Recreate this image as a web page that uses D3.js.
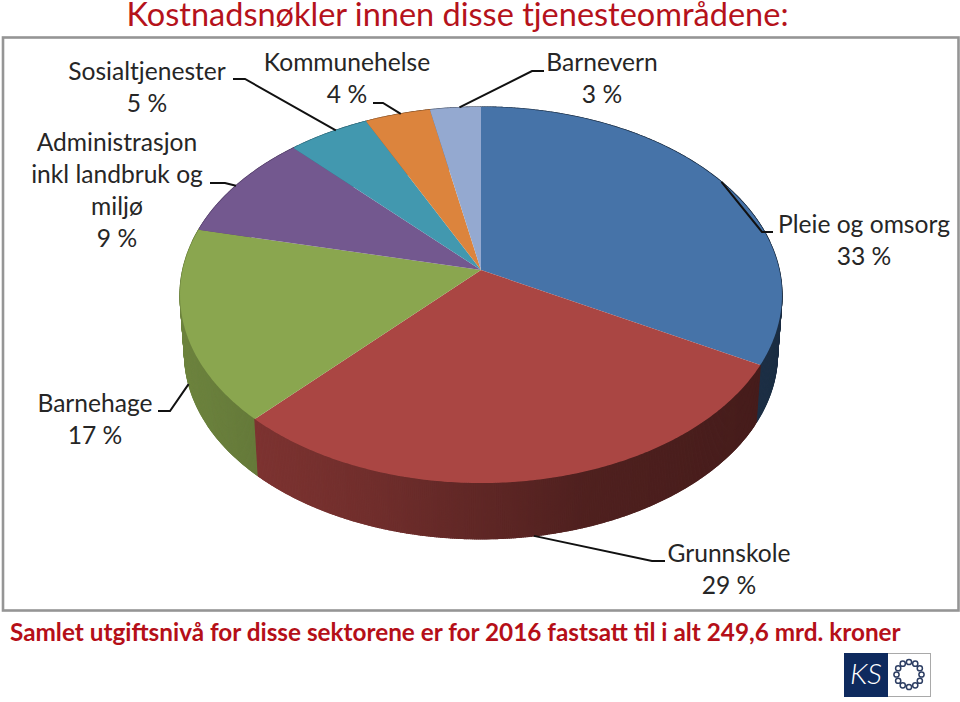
<!DOCTYPE html>
<html><head><meta charset="utf-8">
<script src="https://cdn.jsdelivr.net/npm/d3@7"></script>
<style>html,body{margin:0;background:#fff}svg{display:block}text{font-family:Lato,"Open Sans",sans-serif}</style>
</head><body><svg id="c" width="960" height="702"></svg>
<script>
const categories=["Pleie og omsorg","Grunnskole","Barnehage","Administrasjon\ninkl landbruk og\nmiljø","Sosialtjenester","Kommunehelse","Barnevern"];
const values=[33,29,16.6,9.3,5,4,3.1];
const topColors=["#4673a8","#aa4643","#8aa64f","#73588f","#4298af","#dc843d","#94a9d0"];
const titleText="Kostnadsnøkler innen disse tjenesteområdene:";
const footerText="Samlet utgiftsnivå for disse sektorene er for 2016 fastsatt til i alt 249,6 mrd. kroner";
// label layout: text centre x, first baseline y, leader elbow points
const labelLayout=[
 {x:864,y:233,leader:[[762,232],[773,232]]},
 {x:729,y:562,leader:[[652,561],[665,561]]},
 {x:95,y:412,leader:[[170,411],[158,411]]},
 {x:117,y:151,leader:[[225,183],[210,183]]},
 {x:147,y:80,leader:[[245,79],[233,79]]},
 {x:347,y:71,leader:[[383,103],[373,103]]},
 {x:602,y:71,leader:[[532,71],[544,71]]}
];
const svg=d3.select("#c");
const cx=481,cy=270,A=298.3,B=184.7,p=0.133,depth=59,botScale=0.985;
function proj(t,s=1,dy=0){const u=Math.sin(t),v=-Math.cos(t),w=1-p*v;
  return [cx+s*A*u/w,cy+dy+s*B*v/w];}
const pie=d3.pie().sort(null).value(d=>d)(values);
const shade=d3.scaleLinear().domain([-1,-0.3,0.3,1]).range([0.80,0.66,0.47,0.40]);
function dark(c,k){const r=d3.rgb(c);return d3.rgb(r.r*k,r.g*k,r.b*k).formatHex();}
// frame
svg.append("rect").attr("x",3).attr("y",37.5).attr("width",955.5).attr("height",573).attr("fill","#fff").attr("stroke","#959595").attr("stroke-width",2.6);
// walls
const walls=[];
pie.forEach((d,i)=>{for(const t of d3.range(d.startAngle,d.endAngle,0.006)){
  const e=Math.min(t+0.007,d.endAngle);walls.push({t,e,i});}});
walls.sort((a,b)=>(-Math.cos(a.t))-(-Math.cos(b.t)));
svg.append("g").selectAll("path").data(walls).join("path")
 .attr("d",d=>"M"+[proj(d.t),proj(d.e),proj(d.e,botScale,depth),proj(d.t,botScale,depth)].join("L")+"Z")
 .attr("fill",d=>dark(topColors[d.i],shade(Math.sin(d.t))))
 .attr("stroke",d=>dark(topColors[d.i],shade(Math.sin(d.t)))).attr("stroke-width",1.2);
// top face
const line=d3.line();
svg.append("g").selectAll("path").data(pie).join("path")
 .attr("d",d=>{const pts=[[cx,cy]];const n=Math.ceil((d.endAngle-d.startAngle)/0.01);
   for(let k=0;k<=n;k++)pts.push(proj(d.startAngle+(d.endAngle-d.startAngle)*k/n));
   return line(pts)+"Z";})
 .attr("fill",(d,i)=>topColors[i]);
// leaders
const leaderAnchor=[0.5,0.5,0.5,0.48,0.6,0.55,0.58];
const lg=svg.append("g").attr("fill","none").attr("stroke","#111").attr("stroke-width",2);
pie.forEach((d,i)=>{
  const t=d.startAngle+(d.endAngle-d.startAngle)*leaderAnchor[i];
  const onWall=i===1||i===2;
  const s=proj(t,onWall?botScale:1,onWall?depth:0);
  lg.append("path").attr("d",line([s,...labelLayout[i].leader]));
});
// labels
const lab=svg.append("g").attr("fill","#262626").attr("font-size",24.6).attr("text-anchor","middle");
categories.forEach((c,i)=>{
  const lines=c.split("\n").concat([Math.round(values[i])+" %"]);
  const t=lab.append("text");
  lines.forEach((l,k)=>t.append("tspan").attr("x",labelLayout[i].x).attr("y",labelLayout[i].y+k*32).text(l));
});
svg.append("text").attr("x",457.5).attr("y",26).attr("text-anchor","middle").attr("font-size",32.5).attr("fill","#b5121b").text(titleText);
svg.append("text").attr("x",10).attr("y",641).attr("font-size",24.3).attr("font-weight",700).attr("fill","#b50f18").text(footerText);
// logo
const logo=svg.append("g");
logo.append("rect").attr("x",844.5).attr("y",653.5).attr("width",86).attr("height",43).attr("fill","#fff").attr("stroke","#a9a9a9");
logo.append("rect").attr("x",844).attr("y",653).attr("width",44).attr("height",44).attr("fill","#0e2a5e");
logo.append("text").attr("x",850).attr("y",684).attr("textLength",32).attr("lengthAdjust","spacingAndGlyphs").attr("font-size",28).attr("font-style","italic").attr("font-weight",300).attr("fill","#fff").text("KS");
logo.append("g").selectAll("circle").data(d3.range(12)).join("circle")
 .attr("cx",d=>909+12.5*Math.cos(d*Math.PI/6)).attr("cy",d=>674.5+12.5*Math.sin(d*Math.PI/6)).attr("r",2.6)
 .attr("fill","none").attr("stroke","#2d3e63").attr("stroke-width",1.5);
</script></body></html>
